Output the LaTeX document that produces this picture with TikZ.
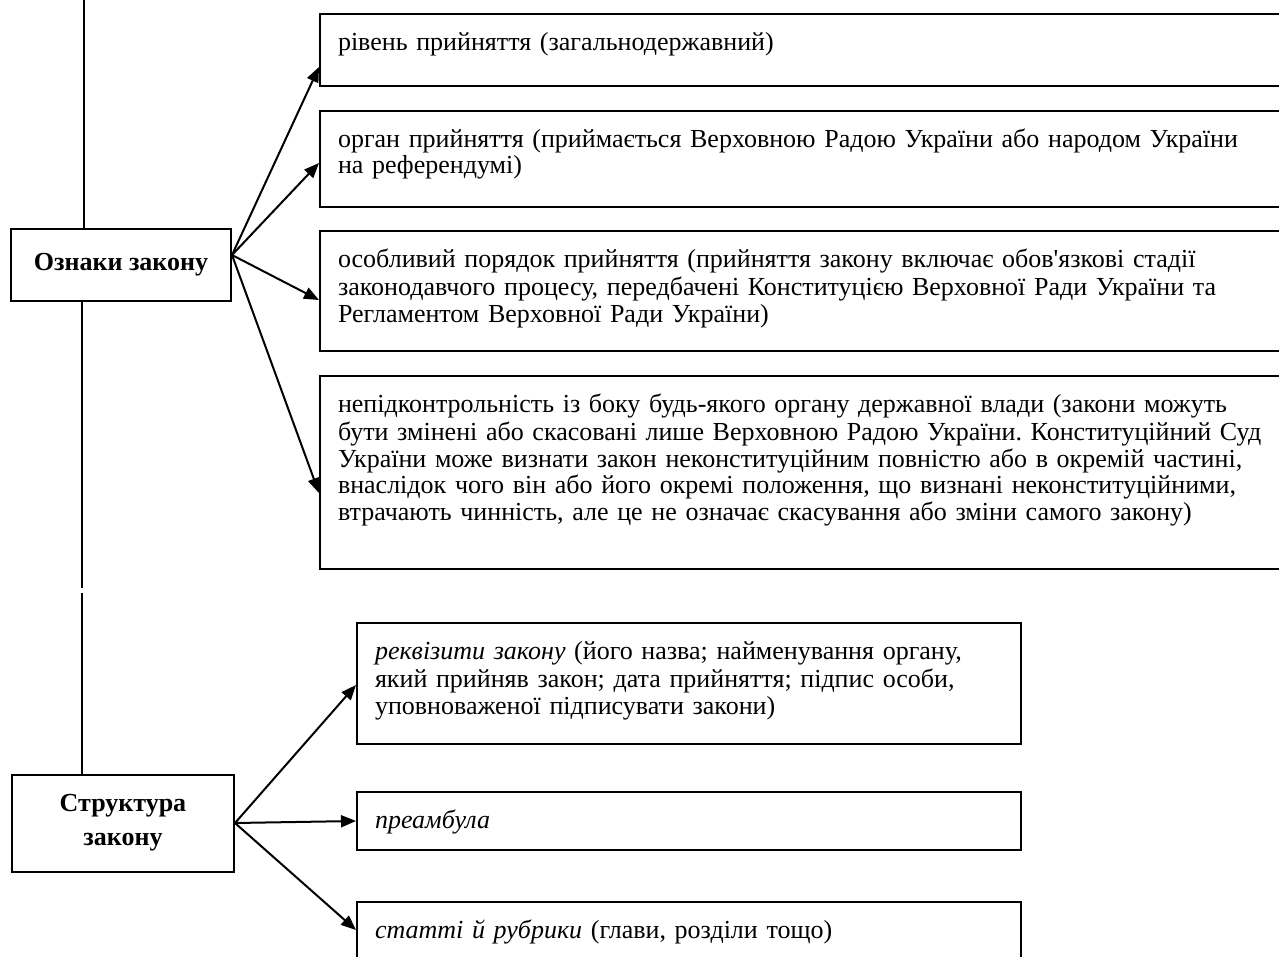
\documentclass[tikz,border=0pt]{standalone}
\usepackage{fontspec}
\setmainfont{Liberation Serif}[Ligatures=TeXOff]
\usetikzlibrary{arrows.meta}

\newcommand{\cell}[2]{\parbox[c][#1][t]{\linewidth}{\vspace*{8.9pt}\strut#2}}
\frenchspacing

\begin{document}
\begin{tikzpicture}[
    x=0.5pt, y=-0.5pt,
    head/.style={draw, line width=1pt, inner sep=0pt, align=center,
                 font=\fontsize{13pt}{17pt}\selectfont\bfseries},
    attr/.style={draw, line width=1pt, anchor=north west, inner xsep=9pt,
                 inner ysep=0pt, text width=472pt, align=left,
                 font=\fontsize{13pt}{13.25pt}\selectfont},
    part/.style={attr, text width=314pt},
    arr/.style={-{Triangle[length=7.5pt, width=6pt]}, line width=1pt},
    trunk/.style={line width=1pt},
]
\clip (0,0) rectangle (1279,957);

% ── Left column: main headings ────────────────────────
\node[head, minimum width=110pt, minimum height=36pt] (oz)
    at (121,265) {Ознаки закону};
\node[head, minimum width=111pt, minimum height=48.5pt] (st)
    at (123,823) {Структура\\закону};

% ── Trunk line ────────────────────────────────────────
\coordinate (top)  at (84,0);
\coordinate (cut1) at (82,588);
\coordinate (cut2) at (82,593);
\draw[trunk] (top) -- (top |- oz.north);
\draw[trunk] (cut1 |- oz.south) -- (cut1);
\draw[trunk] (cut2) -- (cut2 |- st.north);

% ── Features of the law ───────────────────────────────
\node[attr] (b1) at (319,13)
    {\cell{36pt}{рівень прийняття (загальнодержавний)}};
\node[attr] (b2) at (319,110)
    {\cell{48pt}{орган прийняття (приймається Верховною Радою України або народом України\\
     на референдумі)}};
\node[attr] (b3) at (319,230)
    {\cell{60pt}{особливий порядок прийняття (прийняття закону включає обов'язкові стадії\\
     законодавчого процесу, передбачені Конституцією Верховної Ради України та\\
     Регламентом Верховної Ради України)}};
\node[attr] (b4) at (319,375)
    {\cell{96.5pt}{непідконтрольність із боку будь-якого органу державної влади (закони можуть\\
     бути змінені або скасовані лише Верховною Радою України. Конституційний Суд\\
     України може визнати закон неконституційним повністю або в окремій частині,\\
     внаслідок чого він або його окремі положення, що визнані неконституційними,\\
     втрачають чинність, але це не означає скасування або зміни самого закону)}};

% ── Structure of the law ──────────────────────────────
\node[part] (p1) at (356,622)
    {\cell{60.5pt}{\textit{реквізити закону} (його назва; найменування органу,\\
     який прийняв закон; дата прийняття; підпис особи,\\
     уповноваженої підписувати закони)}};
\node[part] (p2) at (356,791)
    {\cell{29pt}{\textit{преамбула}}};
\node[part] (p3) at (356,901)
    {\cell{32pt}{\textit{статті й рубрики} (глави, розділи тощо)}};

% ── Arrows ────────────────────────────────────────────
\draw[arr] ([yshift=5pt]oz.east) -- ([yshift=-27pt]b1.north west);
\draw[arr] ([yshift=5pt]oz.east) -- ([yshift=-26.5pt]b2.north west);
\draw[arr] ([yshift=5pt]oz.east) -- ([yshift=-35pt]b3.north west);
\draw[arr] ([yshift=5pt]oz.east) -- ([yshift=-59pt]b4.north west);

\draw[arr] (st.east) -- ([yshift=-31.5pt]p1.north west);
\draw[arr] (st.east) -- ([yshift=-15pt]p2.north west);
\draw[arr] (st.east) -- ([yshift=-14.5pt]p3.north west);

\end{tikzpicture}
\end{document}
